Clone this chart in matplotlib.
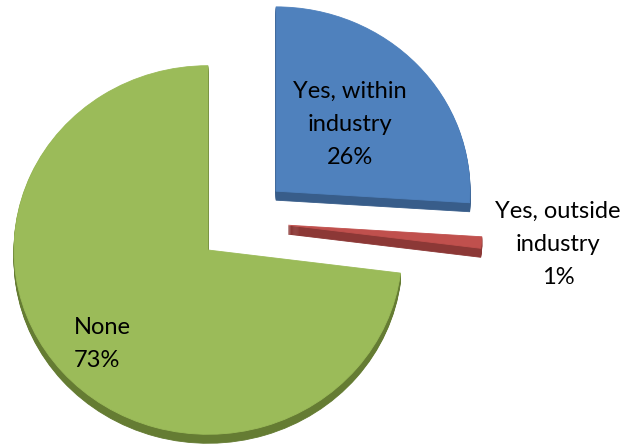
import matplotlib.pyplot as plt

labels = ["Yes, within\nindustry", "Yes, outside\nindustry", "None"]
shares = [26, 1, 73]
top_colors = ["#4F81BD", "#C0504D", "#9BBB59"]
side_colors = ["#385D8A", "#8C3836", "#657C33"]

# pie sizing, in pixels
W, H = 631, 447
k = 0.95          # vertical squash of the tilted pie
R = 194
center = (242.5, 237.8)
gap = 46
depth = 9

plt.rcParams['font.family'] = ['Lato', 'DejaVu Sans']

fig = plt.figure(figsize=(W / 100, H / 100), dpi=100)
ax = fig.add_axes([0, 0, 1, 1])


def draw_layer(cy, colors):
    ws, _ = ax.pie(shares, radius=R, center=(center[0], cy),
                   explode=[gap] * 3, startangle=90, counterclock=False,
                   colors=colors, wedgeprops=dict(linewidth=0.6))
    for w in ws:
        w.set_edgecolor(w.get_facecolor())
    return ws


# side walls: stacked copies pushed down
for d in range(depth, 0, -1):
    draw_layer(center[1] - d / k, side_colors)
# top faces
wedges = draw_layer(center[1], top_colors)

ax.set_aspect('auto')
ax.set_xlim(0, W)
ax.set_ylim(0, H / k)
ax.axis('off')


def px(x, y):
    return x, (H - y) / k


txt = dict(fontsize=17, color="black", linespacing=1.7)
ax.text(*px(350, 81), labels[0] + "\n%d%%" % shares[0], ha="center", va="top", **txt)
ax.text(*px(558, 201), labels[1] + "\n%d%%" % shares[1], ha="center", va="top", **txt)
ax.text(*px(74, 317), labels[2] + "\n%d%%" % shares[2], ha="left", va="top", **txt)

fig.savefig("out.png", dpi=100)
